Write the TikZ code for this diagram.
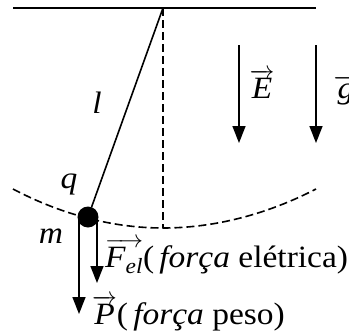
\documentclass[tikz,border=0pt]{standalone}
\usepackage{fontspec}
\setmainfont[FakeStretch=1.08]{Liberation Serif}
\usetikzlibrary{arrows.meta,calc}
\newcommand{\vecit}[1]{$\overrightarrow{\mbox{\itshape #1}}$}

\begin{document}
\begin{tikzpicture}[x=1bp,y=-1bp,every node/.style={font=\fontsize{31bp}{37bp}\selectfont\itshape,inner sep=0pt},
  force/.style={line width=1.6bp,-{Triangle[length=17bp,width=13bp]}},
  guide/.style={line width=1.6bp,dash pattern=on 8bp off 4bp}]
\useasboundingbox (0,0) rectangle (349,333);
\coordinate (pivot) at (163,8); \coordinate (wallL) at (13,8); \coordinate (wallR) at (316,8);
\coordinate (low) at (163,228); \coordinate (arcL) at (13,189); \coordinate (arcR) at (316,189);
\draw[line width=1.8bp](wallL)--(wallR);
\draw[guide](pivot)--(low);
\draw[guide](arcL) parabola bend (low) (arcR);
\node[circle,fill,minimum size=21bp] (bob) at (88,217) {};
\draw[line width=1.6bp](pivot)--(bob);
% forces on the bob
\coordinate (Ptip) at (79,314); \coordinate (Ftip) at (97,283);
\draw[force](bob.center -| Ptip)--(Ptip);
\draw[force](bob.center -| Ftip)--(Ftip);
% uniform fields
\coordinate (Etop) at (239,45); \coordinate (Etip) at (239,143);
\coordinate (gtop) at (316,45); \coordinate (gtip) at (316,143);
\draw[force](Etop)--(Etip); \draw[force](gtop)--(gtip);
\node[anchor=base] (Elab) at (262,98) {\vecit{E}};
\node[anchor=base] (glab) at (346,98) {\vecit{g}};
\node[anchor=base] (len) at (97,113) {l};
\node[anchor=base] (charge) at (69,188) {q};
\node[anchor=base] (mass) at (51,243) {m};
\node[anchor=base west] (Flab) at (105,267) {\vecit{F\textsubscript{el}}\upshape(\,\textit{força} elétrica)};
\node[anchor=base west] (Plab) at (92,324) {\vecit{P}\upshape(\,\textit{força} peso)};
\end{tikzpicture}
\end{document}
